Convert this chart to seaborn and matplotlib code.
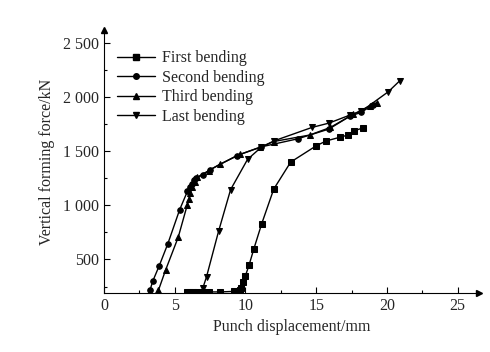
import matplotlib
matplotlib.use("Agg")
import matplotlib.pyplot as plt
import seaborn as sns
import pandas as pd
from matplotlib.ticker import MultipleLocator, FuncFormatter
from matplotlib.lines import Line2D

series_names = ["First bending", "Second bending", "Third bending", "Last bending"]

first_x = [5.9, 6.1, 6.3, 6.6, 7.0, 7.4, 8.2, 9.2, 9.6, 9.7, 9.85, 10.0, 10.25, 10.6, 11.15, 12.0, 13.2, 15.0, 15.7, 16.7, 17.25, 17.7, 18.3]
first_y = [200, 200, 200, 200, 200, 200, 200, 205, 215, 240, 290, 350, 445, 600, 830, 1150, 1400, 1550, 1595, 1630, 1650, 1690, 1715]

second_x = [3.25, 3.45, 3.9, 4.5, 5.35, 5.9, 6.05, 6.2, 6.35, 6.5, 7.0, 7.5, 9.4, 11.1, 13.7, 15.9, 17.4, 18.2, 19.0]
second_y = [215, 300, 440, 640, 960, 1130, 1170, 1200, 1230, 1250, 1285, 1330, 1460, 1540, 1615, 1705, 1825, 1860, 1930]

third_x = [3.85, 4.35, 5.25, 5.88, 6.0, 6.1, 6.25, 6.4, 6.6, 7.4, 8.2, 9.6, 11.0, 12.0, 14.55, 16.0, 17.6, 18.8, 19.3]
third_y = [215, 400, 706, 1000, 1060, 1110, 1170, 1215, 1260, 1320, 1380, 1470, 1535, 1590, 1650, 1720, 1840, 1920, 1950]

last_x = [7.0, 7.25, 8.1, 8.95, 10.15, 11.1, 12.0, 14.7, 15.9, 17.4, 18.2, 20.1, 20.9]
last_y = [240, 340, 760, 1145, 1425, 1535, 1595, 1720, 1760, 1835, 1870, 2050, 2150]

frames = []
for name, xs, ys in zip(series_names, [first_x, second_x, third_x, last_x], [first_y, second_y, third_y, last_y]):
    frames.append(pd.DataFrame({"x": xs, "y": ys, "series": name}))
df = pd.concat(frames, ignore_index=True)

sns.set_style("ticks")
plt.rcParams["font.family"] = ["Liberation Serif", "DejaVu Serif"]

fig = plt.figure(figsize=(4.9, 3.52), dpi=100)
ax = fig.add_axes([0.2122, 0.1676, 0.765, 0.747])

markers = {"First bending": "s", "Second bending": "o", "Third bending": "^", "Last bending": "v"}
palette = {n: "black" for n in series_names}
sns.lineplot(data=df, x="x", y="y", hue="series", style="series", markers=markers,
             dashes=False, palette=palette, sort=False, estimator=None, units="series",
             linewidth=1.0, markersize=4, markeredgecolor="black", ax=ax, legend=False)

handles = [Line2D([0], [0], color="black", lw=1.0, marker=markers[n], markersize=4) for n in series_names]
ax.legend(handles, series_names, loc="upper left", bbox_to_anchor=(0.005, 0.965), frameon=False,
          fontsize=11.5, handlelength=2.4, handletextpad=0.4, labelspacing=0.22, borderpad=0.2)

ax.set_xlim(0, 26.5)
ax.set_ylim(190, 2620)
ax.xaxis.set_minor_locator(MultipleLocator(2.5))
ax.yaxis.set_minor_locator(MultipleLocator(250))

def fmt_y(v, pos):
    v = int(round(v))
    if v >= 1000:
        return f"{v // 1000} {v % 1000:03d}"
    return str(v)
ax.set_xticks([0, 5, 10, 15, 20, 25])
ax.set_yticks([500, 1000, 1500, 2000, 2500])
ax.yaxis.set_major_formatter(FuncFormatter(fmt_y))

ax.tick_params(axis="both", which="both", direction="in", labelsize=11.5, width=0.8, color="black")
ax.tick_params(which="major", length=4)
ax.tick_params(which="minor", length=2.5)

for s in ["top", "right"]:
    ax.spines[s].set_visible(False)
for s in ["left", "bottom"]:
    ax.spines[s].set_linewidth(0.8)
    ax.spines[s].set_color("black")

ax.plot(1, 0, marker=">", color="black", markersize=5, transform=ax.transAxes, clip_on=False)
ax.plot(0, 1, marker="^", color="black", markersize=5, transform=ax.transAxes, clip_on=False)

ax.set_xlabel("Punch displacement/mm", fontsize=11.5, labelpad=4)
ax.set_ylabel("Vertical forming force/kN", fontsize=11.5, labelpad=6)

fig.savefig("out.png", dpi=100)
